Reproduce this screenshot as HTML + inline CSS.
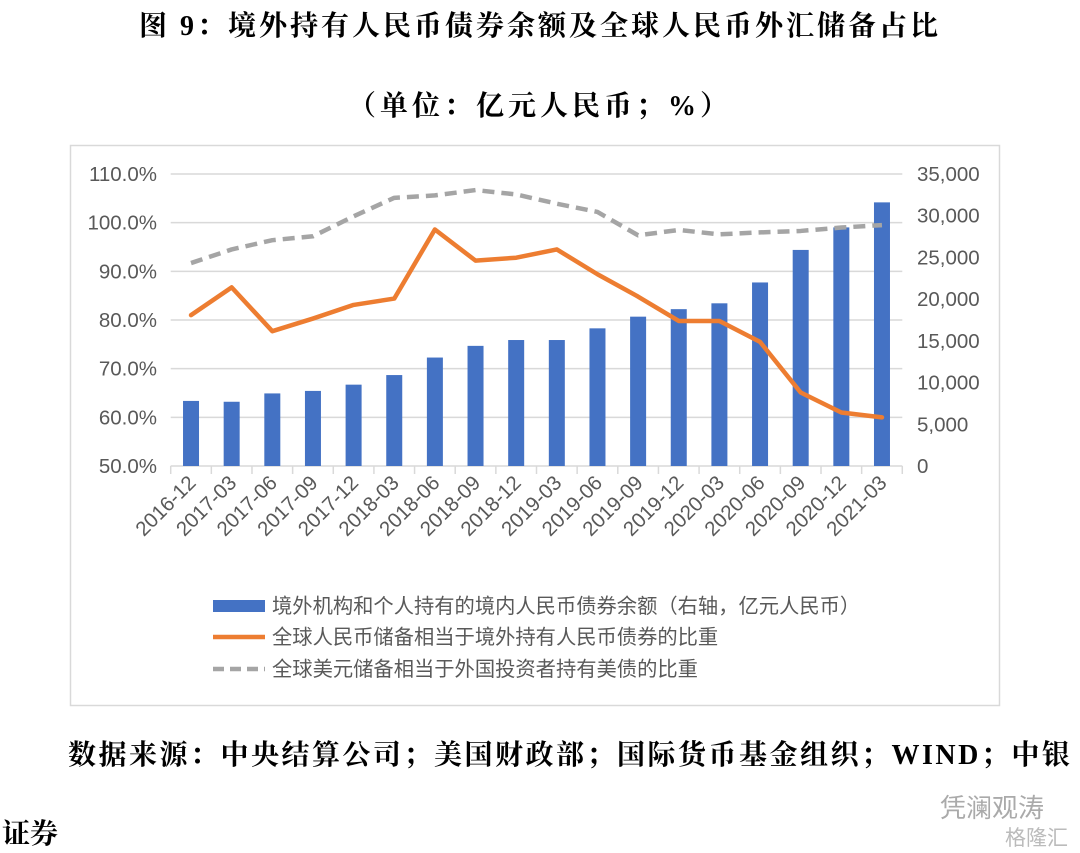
<!DOCTYPE html>
<html><head><meta charset="utf-8">
<style>
body{margin:0;background:#fff;width:1080px;height:853px;overflow:hidden;position:relative;font-family:"Liberation Serif","Noto Serif CJK SC",serif;}
.t{position:absolute;left:0;width:1080px;text-align:center;font-weight:bold;font-size:28px;color:#000;letter-spacing:3px;}
</style></head><body>
<div class="t" style="top:4px;">图 9：境外持有人民币债券余额及全球人民币外汇储备占比</div>
<div class="t" style="top:84px;letter-spacing:4px;">（单位：亿元人民币；%）</div>
<svg id="c" width="1080" height="853" style="position:absolute;left:0;top:0" font-family="Liberation Sans, Noto Sans CJK SC, sans-serif"></svg>
<div style="position:absolute;left:68px;top:733px;font-size:28px;font-weight:bold;letter-spacing:2.5px;white-space:nowrap;">数据来源：中央结算公司；美国财政部；国际货币基金组织；WIND；中银</div>
<div style="position:absolute;left:2px;top:812px;font-size:28px;font-weight:bold;">证券</div>
<div style="position:absolute;left:940px;top:788px;font-size:26px;color:#aaa;font-family:'Liberation Sans','Noto Sans CJK SC',sans-serif;">凭澜观涛</div>
<div style="position:absolute;left:1005px;top:822px;font-size:21px;color:#bbb;font-family:'Liberation Sans','Noto Sans CJK SC',sans-serif;">格隆汇</div>
<script>
const categories=["2016-12","2017-03","2017-06","2017-09","2017-12","2018-03","2018-06","2018-09","2018-12","2019-03","2019-06","2019-09","2019-12","2020-03","2020-06","2020-09","2020-12","2021-03"];
const barValues=[7800,7700,8700,9000,9750,10900,13000,14400,15100,15100,16500,17900,18800,19500,22000,25900,28600,31600];
const cnyRatio=[81.0,86.7,77.7,80.3,83.1,84.4,98.6,92.2,92.8,94.5,89.4,84.8,79.8,79.8,75.5,65.1,61.0,60.0];
const usdRatio=[91.7,94.5,96.4,97.2,101.3,105.1,105.6,106.7,105.8,103.9,102.2,97.4,98.5,97.6,98.0,98.3,99.0,99.5];
const leftTicks=[50,60,70,80,90,100,110];
const rightTicks=[0,5000,10000,15000,20000,25000,30000,35000];
const legendLabels=["境外机构和个人持有的境内人民币债券余额（右轴，亿元人民币）","全球人民币储备相当于境外持有人民币债券的比重","全球美元储备相当于外国投资者持有美债的比重"];

const svg=document.getElementById('c');const NS='http://www.w3.org/2000/svg';
function mk(t,a,p){const e=document.createElementNS(NS,t);for(const k in a)e.setAttribute(k,a[k]);(p||svg).appendChild(e);return e;}
const L=170.7,R=902.3,T=174,B=466;
const step=(R-L)/categories.length;
const xc=i=>L+step*(i+0.5);
const yL=v=>B-(v-50)/60*(B-T);
const yR=v=>B-v/35000*(B-T);

let box=mk('rect',{x:70.5,y:145.5,width:929,height:560,fill:'#fff',stroke:'#d9d9d9','stroke-width':1.5});



leftTicks.forEach(v=>{
  const y=yL(v);
  const g=mk('line',{x1:L,x2:R,y1:y,y2:y,stroke:'#d9d9d9','stroke-width':1.5});
  
  
  const t=mk('text',{x:157,y:y+7,'text-anchor':'end','font-size':20.5,fill:'#595959'});t.textContent=v.toFixed(1)+'%';
  
  
});
rightTicks.forEach(v=>{
  const t=mk('text',{x:917,y:yR(v)+7,'text-anchor':'start','font-size':20.5,fill:'#595959'});t.textContent=v.toLocaleString('en-US');
  
  
});
for(let i=0;i<=categories.length;i++){
  const x=L+step*i;
  const tk=mk('line',{x1:x,x2:x,y1:B,y2:B+8,stroke:'#d9d9d9','stroke-width':1.5});
  
  
}
barValues.forEach((v,i)=>{
  const b=mk('rect',{x:xc(i)-8,y:yR(v),width:16,height:B-yR(v),fill:'#4472c4'});
  
  
});
categories.forEach((c,i)=>{
  const x=xc(i)+6,y=484;
  const t=mk('text',{x:x,y:y,'text-anchor':'end','font-size':20.5,fill:'#595959',transform:`rotate(-45 ${x} ${y})`});t.textContent=c;
  
  
});
const p1=mk('polyline',{points:cnyRatio.map((v,i)=>xc(i)+','+yL(v)).join(' '),fill:'none',stroke:'#ed7d31','stroke-width':4.5,'stroke-linejoin':'round','stroke-linecap':'round'});


const p2=mk('polyline',{points:usdRatio.map((v,i)=>xc(i)+','+yL(v)).join(' '),fill:'none',stroke:'#a5a5a5','stroke-width':4.5,'stroke-dasharray':'12 7','stroke-linejoin':'round'});



const ly=[606,637,669];
legendLabels.forEach((s,i)=>{
  let m;
  if(i===0)m=mk('rect',{x:213,y:ly[i]-6,width:52,height:12,fill:'#4472c4'});
  else if(i===1)m=mk('line',{x1:213,x2:265,y1:ly[i],y2:ly[i],stroke:'#ed7d31','stroke-width':4.5});
  else m=mk('line',{x1:213,x2:265,y1:ly[i],y2:ly[i],stroke:'#a5a5a5','stroke-width':4.5,'stroke-dasharray':'11 6'});
  
  
  const t=mk('text',{x:272,y:ly[i]+7,'font-size':20.3,fill:'#595959'});t.textContent=s;
  
  
});
</script>
</body></html>
